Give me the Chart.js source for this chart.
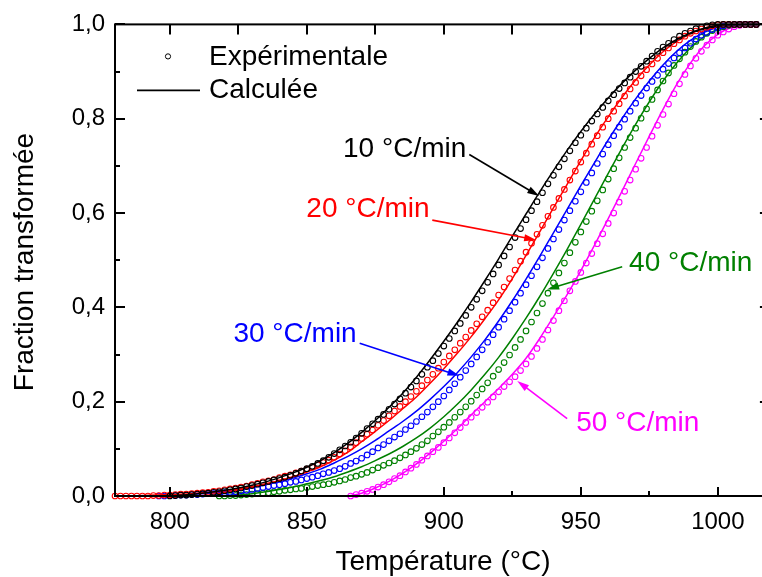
<!DOCTYPE html>
<html><head><meta charset="utf-8">
<script src="https://cdn.jsdelivr.net/npm/chart.js@4/dist/chart.umd.min.js"></script>
<style>
html,body{margin:0;padding:0;background:#fff;overflow:hidden;width:762px;height:577px}
#wrap{width:775px;height:577px}
canvas{display:block}
</style></head>
<body><div id="wrap"><canvas id="c" width="775" height="577"></canvas></div>
<script>
// ---------- DATA ----------
const tempsExp = [780,782,784,786,788,790,792,794,796,798,800,802,804,806,808,810,812,814,816,818,820,822,824,826,828,830,832,834,836,838,840,842,844,846,848,850,852,854,856,858,860,862,864,866,868,870,872,874,876,878,880,882,884,886,888,890,892,894,896,898,900,902,904,906,908,910,912,914,916,918,920,922,924,926,928,930,932,934,936,938,940,942,944,946,948,950,952,954,956,958,960,962,964,966,968,970,972,974,976,978,980,982,984,986,988,990,992,994,996,998,1000,1002,1004,1006,1008,1010,1012,1014];
const tempsCalc = [780,785,790,795,800,805,810,815,820,825,830,835,840,845,850,855,860,865,870,875,880,885,890,895,900,905,910,915,920,925,930,935,940,945,950,955,960,965,970,975,980,985,990,995,1000,1005,1010,1015];

const rateNames = ['10 °C/min','20 °C/min','30 °C/min','40 °C/min','50 °C/min'];
const seriesColors = ['#000000','#ff0000','#0000ff','#008000','#ff00ff'];

// experimental (first temperature of each series, then values every 2 °C)
const exp10Start = 800;
const exp10 = [0.000,0.001,0.002,0.002,0.003,0.004,0.005,0.006,0.008,0.009,
0.011,0.013,0.015,0.017,0.020,0.022,0.025,0.028,0.031,0.034,
0.037,0.040,0.044,0.048,0.053,0.058,0.063,0.069,0.075,0.082,
0.090,0.098,0.106,0.114,0.123,0.133,0.143,0.153,0.163,0.173,
0.184,0.195,0.206,0.218,0.231,0.244,0.258,0.273,0.287,0.302,
0.318,0.334,0.350,0.366,0.383,0.400,0.417,0.435,0.453,0.471,
0.490,0.509,0.528,0.548,0.567,0.586,0.605,0.624,0.643,0.662,
0.680,0.698,0.715,0.732,0.749,0.765,0.780,0.795,0.810,0.824,
0.838,0.851,0.864,0.876,0.888,0.900,0.911,0.922,0.933,0.943,
0.952,0.960,0.968,0.975,0.981,0.986,0.991,0.994,0.997,0.999,
1,1,1,1,1,1,1,1];
const exp20Start = 780;
const exp20 = [0,0,0,0,0,0,0,0.001,0.001,0.002,
0.002,0.003,0.004,0.004,0.005,0.006,0.007,0.008,0.010,0.011,
0.013,0.015,0.017,0.019,0.021,0.024,0.027,0.030,0.032,0.035,
0.039,0.042,0.045,0.049,0.053,0.057,0.061,0.066,0.071,0.076,
0.082,0.089,0.096,0.104,0.113,0.122,0.131,0.140,0.150,0.160,
0.170,0.180,0.190,0.200,0.211,0.222,0.234,0.246,0.258,0.271,
0.284,0.297,0.310,0.324,0.337,0.351,0.365,0.380,0.394,0.410,
0.426,0.443,0.461,0.479,0.498,0.517,0.536,0.555,0.574,0.593,
0.612,0.631,0.650,0.670,0.689,0.708,0.727,0.746,0.764,0.782,
0.800,0.816,0.832,0.848,0.863,0.877,0.891,0.904,0.916,0.928,
0.940,0.950,0.959,0.967,0.975,0.981,0.986,0.990,0.994,0.997,
0.999,1,1,1,1,1,1,1];
const exp30Start = 796;
const exp30 = [0,0,
0.001,0.001,0.002,0.002,0.003,0.003,0.004,0.005,0.005,0.006,
0.007,0.008,0.009,0.011,0.012,0.014,0.016,0.018,0.020,0.022,
0.024,0.026,0.029,0.031,0.034,0.037,0.040,0.043,0.047,0.050,
0.054,0.058,0.063,0.069,0.074,0.080,0.087,0.094,0.102,0.109,
0.117,0.125,0.132,0.141,0.149,0.158,0.168,0.178,0.189,0.200,
0.212,0.225,0.238,0.252,0.266,0.280,0.295,0.310,0.326,0.342,
0.358,0.375,0.393,0.411,0.430,0.448,0.467,0.486,0.505,0.525,
0.545,0.565,0.585,0.605,0.625,0.645,0.665,0.685,0.705,0.725,
0.745,0.764,0.782,0.799,0.816,0.833,0.849,0.865,0.879,0.892,
0.905,0.917,0.929,0.940,0.950,0.960,0.969,0.977,0.983,0.989,
0.993,0.997,0.999,1,1,1,1,1];
const exp40Start = 818;
const exp40 = [0,
0.000,0.001,0.001,0.002,0.003,0.004,0.005,0.006,0.007,0.009,
0.010,0.012,0.013,0.015,0.016,0.018,0.020,0.022,0.024,0.026,
0.029,0.032,0.035,0.039,0.042,0.046,0.050,0.055,0.060,0.065,
0.070,0.075,0.081,0.087,0.094,0.101,0.109,0.117,0.127,0.136,
0.146,0.156,0.167,0.178,0.189,0.201,0.214,0.227,0.240,0.254,
0.268,0.283,0.299,0.315,0.332,0.350,0.369,0.388,0.408,0.430,
0.452,0.473,0.494,0.516,0.538,0.560,0.582,0.604,0.626,0.649,
0.672,0.694,0.717,0.739,0.760,0.780,0.801,0.821,0.841,0.861,
0.880,0.897,0.913,0.927,0.941,0.953,0.964,0.973,0.981,0.987,
0.992,0.995,0.998,0.999,1,1,1,1];
const exp50Start = 866;
const exp50 = [0.000,0.003,0.006,0.010,0.014,0.019,0.024,
0.030,0.037,0.043,0.051,0.059,0.067,0.076,0.085,0.094,0.103,
0.113,0.123,0.134,0.145,0.156,0.167,0.177,0.188,0.199,0.210,
0.221,0.232,0.242,0.253,0.266,0.280,0.296,0.313,0.332,0.352,
0.372,0.393,0.414,0.435,0.455,0.474,0.494,0.514,0.535,0.556,
0.578,0.600,0.623,0.646,0.670,0.693,0.716,0.739,0.763,0.786,
0.809,0.831,0.853,0.874,0.894,0.912,0.928,0.943,0.956,0.967,
0.977,0.984,0.990,0.995,0.998,1,1,1];

// calculated (first temperature, then values every 5 °C)
const calc10Start = 800;
const calc10 = [0.000,0.002,0.005,0.008,0.012,0.017,0.023,0.030,0.039,0.049,
0.061,0.075,0.092,0.112,0.135,0.160,0.188,0.218,0.252,0.289,
0.328,0.369,0.412,0.457,0.503,0.551,0.598,0.645,0.690,0.733,
0.773,0.810,0.844,0.875,0.903,0.928,0.950,0.968,0.982,0.992,
0.998,1,1,1];
const calc20Start = 780;
const calc20 = [0,0,0.001,0.002,0.003,0.004,0.006,0.008,0.011,0.015,
0.020,0.026,0.033,0.041,0.051,0.062,0.076,0.093,0.115,0.137,
0.160,0.185,0.210,0.239,0.270,0.303,0.338,0.376,0.416,0.461,
0.510,0.560,0.611,0.661,0.711,0.760,0.804,0.845,0.882,0.914,
0.942,0.964,0.980,0.992,0.998,1,1,1];
const calc30Start = 795;
const calc30 = [0.000,0.001,0.002,0.004,0.006,0.009,0.013,0.018,0.024,0.030,
0.038,0.047,0.057,0.070,0.084,0.100,0.118,0.138,0.158,0.180,
0.205,0.232,0.262,0.295,0.331,0.371,0.414,0.460,0.508,0.558,
0.608,0.658,0.707,0.755,0.800,0.842,0.880,0.914,0.943,0.966,
0.983,0.994,0.999,1,1];
const calc40Start = 820;
const calc40 = [0.000,0.002,0.005,0.009,0.014,0.019,0.026,0.033,0.041,0.051,
0.062,0.075,0.089,0.105,0.123,0.144,0.168,0.195,0.225,0.258,
0.294,0.334,0.377,0.423,0.472,0.523,0.576,0.630,0.684,0.737,
0.788,0.836,0.880,0.918,0.950,0.974,0.990,0.998,1,1];
const calc50Start = 865;
const calc50 = [0.000,0.006,0.017,0.031,0.048,0.068,0.091,0.116,0.143,0.172,
0.200,0.228,0.258,0.292,0.334,0.380,0.427,0.478,0.532,0.588,
0.646,0.705,0.763,0.820,0.873,0.918,0.954,0.979,0.994,1,1];

// axes
const xTickValues = [800, 850, 900, 950, 1000];
const xTickLabels = ['800', '850', '900', '950', '1000'];
const xMinorValues = [825, 875, 925, 975];
const yTickValues = [0, 0.2, 0.4, 0.6, 0.8, 1.0];
const yTickLabels = ['0,0','0,2','0,4','0,6','0,8','1,0'];
const yMinorValues = [0.1, 0.3, 0.5, 0.7, 0.9];
const xTitle = 'Température (°C)';
const yTitle = 'Fraction transformée';
const legendLabels = ['Expérimentale', 'Calculée'];

// ---------- LAYOUT (annotation anchors in data units) ----------
const annot = [
  {text: 0, tx: 908.2, ty: 0.735, align: 'right', from: [909.3, 0.724], to: [934.8, 0.636]},
  {text: 1, tx: 894.8, ty: 0.608, align: 'right', from: [895.8, 0.585], to: [933.7, 0.543]},
  {text: 2, tx: 868.2, ty: 0.343, align: 'right', from: [869.3, 0.324], to: [905.7, 0.255]},
  {text: 3, tx: 967.6, ty: 0.493, align: 'left',  from: [965.1, 0.486], to: [937.7, 0.438]},
  {text: 4, tx: 948.3, ty: 0.154, align: 'left',  from: [945.0, 0.164], to: [926.8, 0.244]}
];

const FONT = '"Liberation Sans", Arial, Helvetica, sans-serif';

function pairs(temps, t0, vals) {
  const k = temps.indexOf(t0);
  return vals.map((v, i) => ({x: temps[k + i], y: v}));
}

const expSets = [[exp10Start, exp10],[exp20Start, exp20],[exp30Start, exp30],[exp40Start, exp40],[exp50Start, exp50]];
const calcSets = [[calc10Start, calc10],[calc20Start, calc20],[calc30Start, calc30],[calc40Start, calc40],[calc50Start, calc50]];

const datasets = [];
for (let s = 0; s < 5; s++) {
  datasets.push({
    label: 'calc ' + rateNames[s],
    data: pairs(tempsCalc, calcSets[s][0], calcSets[s][1]),
    showLine: true, borderColor: seriesColors[s], borderWidth: 1.5,
    pointRadius: 0, cubicInterpolationMode: 'monotone', fill: false, clip: 3
  });
  datasets.push({
    label: 'exp ' + rateNames[s],
    data: pairs(tempsExp, expSets[s][0], expSets[s][1]),
    showLine: false, pointStyle: 'circle', pointRadius: 2.8, pointBorderWidth: 1.1,
    borderColor: seriesColors[s], pointBorderColor: seriesColors[s],
    backgroundColor: 'rgba(0,0,0,0)', pointBackgroundColor: 'rgba(0,0,0,0)', clip: 4
  });
}

function drawArrow(ctx, x1, y1, x2, y2, color) {
  const ang = Math.atan2(y2 - y1, x2 - x1);
  const L = 12, W = 3.6;
  const bx = x2 - L * Math.cos(ang), by = y2 - L * Math.sin(ang);
  ctx.strokeStyle = color; ctx.fillStyle = color; ctx.lineWidth = 1.6;
  ctx.beginPath(); ctx.moveTo(x1, y1); ctx.lineTo(bx + 2*Math.cos(ang), by + 2*Math.sin(ang)); ctx.stroke();
  ctx.beginPath();
  ctx.moveTo(x2, y2);
  ctx.lineTo(bx + W * Math.sin(ang), by - W * Math.cos(ang));
  ctx.lineTo(bx - W * Math.sin(ang), by + W * Math.cos(ang));
  ctx.closePath(); ctx.fill();
}

const decor = {
  id: 'decor',
  afterDraw(chart) {
    const {ctx, chartArea: a, scales: {x, y}} = chart;
    ctx.save();
    // frame
    ctx.strokeStyle = '#000'; ctx.lineWidth = 2;
    ctx.strokeRect(a.left, a.top, a.right - a.left, a.bottom - a.top);
    ctx.beginPath();
    xTickValues.forEach(v => { const p = Math.round(x.getPixelForValue(v));
      ctx.moveTo(p, a.bottom); ctx.lineTo(p, a.bottom - 9);
      ctx.moveTo(p, a.top); ctx.lineTo(p, a.top + 10); });
    xMinorValues.forEach(v => { const p = Math.round(x.getPixelForValue(v));
      ctx.moveTo(p, a.bottom); ctx.lineTo(p, a.bottom - 5);
      ctx.moveTo(p, a.top); ctx.lineTo(p, a.top + 10); });
    yTickValues.forEach(v => { const p = Math.round(y.getPixelForValue(v));
      ctx.moveTo(a.left, p); ctx.lineTo(a.left + 10, p);
      ctx.moveTo(a.right, p); ctx.lineTo(a.right - 10, p); });
    yMinorValues.forEach(v => { const p = Math.round(y.getPixelForValue(v));
      ctx.moveTo(a.left, p); ctx.lineTo(a.left + 5, p);
      ctx.moveTo(a.right, p); ctx.lineTo(a.right - 5, p); });
    ctx.stroke();

    // axis titles
    ctx.fillStyle = '#000';
    ctx.font = '28px ' + FONT;
    ctx.textAlign = 'center'; ctx.textBaseline = 'alphabetic';
    ctx.fillText(xTitle, 443, 570);
    ctx.save();
    ctx.translate(33, 262); ctx.rotate(-Math.PI / 2);
    ctx.fillText(yTitle, 0, 0);
    ctx.restore();

    // legend
    ctx.strokeStyle = '#000'; ctx.lineWidth = 1;
    ctx.beginPath(); ctx.arc(a.left + 53, a.top + 32, 2.6, 0, Math.PI * 2); ctx.stroke();
    ctx.lineWidth = 1.6;
    ctx.beginPath(); ctx.moveTo(a.left + 22, a.top + 66); ctx.lineTo(a.left + 85, a.top + 66); ctx.stroke();
    ctx.textAlign = 'left'; ctx.textBaseline = 'middle';
    ctx.fillText(legendLabels[0], a.left + 94, a.top + 33);
    ctx.fillText(legendLabels[1], a.left + 94, a.top + 66);

    // rate annotations
    annot.forEach(an => {
      const c = seriesColors[an.text];
      drawArrow(ctx, x.getPixelForValue(an.from[0]), y.getPixelForValue(an.from[1]),
                x.getPixelForValue(an.to[0]), y.getPixelForValue(an.to[1]), c);
      ctx.fillStyle = c; ctx.textAlign = an.align; ctx.textBaseline = 'middle';
      ctx.fillText(rateNames[an.text], x.getPixelForValue(an.tx), y.getPixelForValue(an.ty));
    });
    ctx.restore();
  }
};

new Chart(document.getElementById('c'), {
  type: 'scatter',
  data: {datasets},
  options: {
    responsive: false, animation: false, devicePixelRatio: 1, events: [],
    layout: {padding: {left: 0, top: 21, right: 4, bottom: 0}},
    plugins: {legend: {display: false}, tooltip: {enabled: false}},
    scales: {
      x: {
        type: 'linear', min: 780, max: 1019,
        grid: {display: false, drawTicks: false}, border: {display: false},
        afterBuildTicks: s => { s.ticks = xTickValues.map(v => ({value: v})); },
        afterFit: s => { s.height = 81; },
        ticks: {font: {family: FONT, size: 24}, color: '#000', padding: 12, maxRotation: 0, autoSkip: false,
                callback: (v, i) => xTickLabels[i]}
      },
      y: {
        type: 'linear', min: 0, max: 1,
        grid: {display: false, drawTicks: false}, border: {display: false},
        afterBuildTicks: s => { s.ticks = yTickValues.map(v => ({value: v})); },
        afterFit: s => { s.width = 115; },
        ticks: {font: {family: FONT, size: 24}, color: '#000', padding: 10, autoSkip: false,
                callback: (v, i) => yTickLabels[i]}
      }
    }
  },
  plugins: [decor]
});
</script>
</body></html>
